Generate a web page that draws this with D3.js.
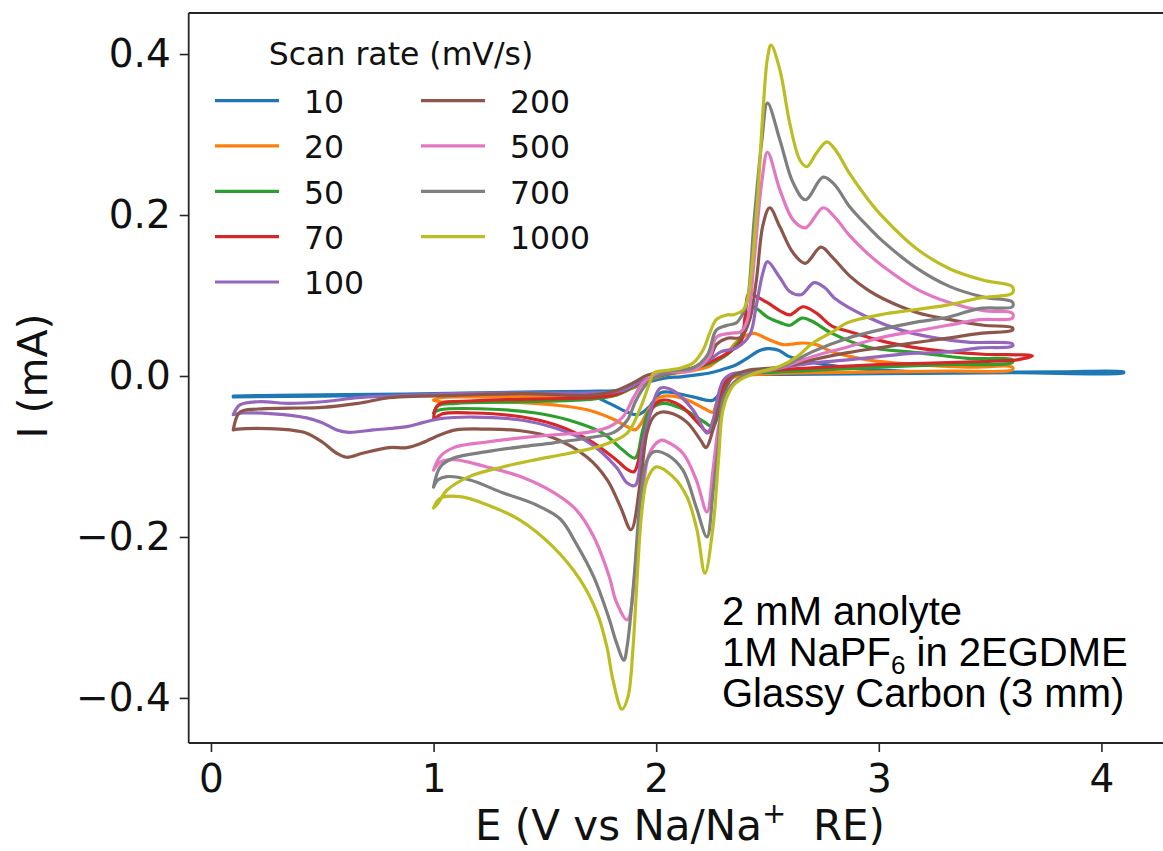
<!DOCTYPE html>
<html>
<head>
<meta charset="utf-8">
<script src="https://cdn.jsdelivr.net/npm/d3@7"></script>
<style>
  html, body { margin: 0; padding: 0; background: #fff; overflow: hidden; }
  svg { display: block; }
</style>
</head>
<body>
<svg id="chart" width="1163" height="851"></svg>
<script>
// ---------------- DATA ----------------
const scanRates = ["10", "20", "50", "70", "100", "200", "500", "700", "1000"];
const xTicks = [0, 1, 2, 3, 4];
const yTicks = [-0.4, -0.2, 0.0, 0.2, 0.4];
const legendTitle = "Scan rate (mV/s)";
const annotationLines = ["2 mM anolyte", "1M NaPF6 in 2EGDME", "Glassy Carbon (3 mm)"];

// Each series: closed CV loop [E (V), I (mA)]
const cv10 = [[0.10,-0.025],[0.30,-0.024],[0.60,-0.023],[1.00,-0.022],[1.40,-0.020],[1.70,-0.019],[1.82,-0.018],[1.88,-0.016],[1.96,-0.008],[2.05,-0.002],[2.11,-0.001],[2.20,0.002],[2.26,0.005],[2.32,0.010],[2.36,0.014],[2.42,0.024],[2.46,0.031],[2.50,0.034],[2.55,0.032],[2.59,0.025],[2.65,0.020],[2.72,0.016],[2.87,0.010],[3.10,0.006],[3.40,0.005],[3.80,0.005],[4.10,0.005],
  [4.10,0.004],[3.60,0.004],[3.00,0.003],[2.60,0.002],[2.41,0.002],[2.345,0.002],[2.30,-0.015],[2.255,-0.030],[2.165,-0.026],[2.06,-0.020],[2.02,-0.021],[1.97,-0.038],[1.92,-0.048],[1.87,-0.045],[1.79,-0.034],[1.72,-0.026],[1.50,-0.023],[1.00,-0.023],[0.50,-0.025],[0.10,-0.026]];
const cv20 = [[1.00,-0.030],[1.03,-0.027],[1.20,-0.026],[1.50,-0.025],[1.75,-0.024],[1.85,-0.020],[1.92,-0.011],[1.98,-0.004],[2.05,0.002],[2.15,0.006],[2.23,0.011],[2.28,0.020],[2.32,0.029],[2.36,0.042],[2.40,0.050],[2.44,0.053],[2.50,0.046],[2.57,0.039],[2.62,0.040],[2.66,0.041],[2.72,0.039],[2.79,0.030],[2.95,0.020],[3.17,0.014],[3.40,0.011],[3.60,0.011],
  [3.60,0.008],[3.31,0.006],[3.00,0.005],[2.70,0.004],[2.41,0.001],[2.345,-0.002],[2.30,-0.012],[2.27,-0.034],[2.255,-0.045],[2.22,-0.041],[2.15,-0.031],[2.075,-0.025],[2.02,-0.026],[1.97,-0.040],[1.93,-0.060],[1.905,-0.067],[1.87,-0.063],[1.81,-0.054],[1.69,-0.042],[1.54,-0.036],[1.40,-0.033],[1.18,-0.032],[1.03,-0.032],[1.00,-0.030]];
const cv50 = [[1.00,-0.046],[1.02,-0.037],[1.10,-0.034],[1.40,-0.032],[1.70,-0.029],[1.82,-0.024],[1.90,-0.013],[1.96,-0.004],[2.05,0.002],[2.165,0.009],[2.255,0.017],[2.32,0.027],[2.37,0.042],[2.40,0.065],[2.43,0.086],[2.46,0.082],[2.50,0.073],[2.56,0.066],[2.60,0.063],[2.655,0.072],[2.70,0.068],[2.79,0.053],[2.95,0.036],[3.17,0.029],[3.40,0.022],[3.60,0.020],
  [3.60,0.017],[3.31,0.014],[3.00,0.011],[2.70,0.007],[2.41,0.003],[2.345,0.000],[2.30,-0.017],[2.28,-0.045],[2.255,-0.063],[2.21,-0.056],[2.12,-0.041],[2.03,-0.034],[1.97,-0.043],[1.94,-0.067],[1.905,-0.102],[1.85,-0.092],[1.76,-0.071],[1.61,-0.055],[1.46,-0.046],[1.24,-0.041],[1.03,-0.042],[1.00,-0.046]];
const cv70 = [[1.00,-0.054],[1.02,-0.036],[1.18,-0.031],[1.40,-0.029],[1.70,-0.027],[1.82,-0.023],[1.90,-0.012],[1.96,-0.004],[2.05,0.003],[2.165,0.010],[2.255,0.019],[2.33,0.030],[2.38,0.042],[2.40,0.075],[2.415,0.102],[2.44,0.100],[2.50,0.091],[2.556,0.081],[2.60,0.076],[2.66,0.086],[2.72,0.078],[2.79,0.062],[2.87,0.055],[3.02,0.043],[3.17,0.035],[3.32,0.030],[3.47,0.027],[3.69,0.025],
  [3.62,0.020],[3.47,0.018],[3.24,0.016],[3.00,0.014],[2.70,0.010],[2.41,0.005],[2.345,0.001],[2.30,-0.012],[2.27,-0.052],[2.235,-0.070],[2.18,-0.056],[2.11,-0.037],[2.03,-0.030],[1.99,-0.037],[1.94,-0.080],[1.90,-0.119],[1.87,-0.116],[1.82,-0.104],[1.70,-0.080],[1.55,-0.061],[1.40,-0.051],[1.18,-0.046],[1.04,-0.047],[1.00,-0.054]];
const cv100 = [[0.10,-0.048],[0.13,-0.036],[0.21,-0.032],[0.355,-0.034],[0.50,-0.032],[0.66,-0.027],[0.80,-0.025],[1.10,-0.022],[1.40,-0.021],[1.70,-0.021],[1.85,-0.018],[1.93,-0.007],[2.02,0.001],[2.165,0.010],[2.24,0.020],[2.29,0.030],[2.36,0.035],[2.42,0.051],[2.45,0.088],[2.48,0.129],[2.50,0.142],[2.556,0.122],[2.60,0.105],[2.65,0.101],[2.71,0.116],[2.76,0.109],[2.80,0.097],[2.95,0.073],[3.10,0.057],[3.24,0.048],[3.40,0.042],[3.60,0.040],
  [3.60,0.037],[3.455,0.035],[3.31,0.030],[3.15,0.028],[3.00,0.024],[2.86,0.020],[2.70,0.016],[2.556,0.010],[2.41,0.004],[2.345,0.003],[2.30,-0.006],[2.255,-0.055],[2.23,-0.071],[2.165,-0.042],[2.075,-0.018],[2.02,-0.015],[1.99,-0.030],[1.94,-0.083],[1.905,-0.136],[1.87,-0.133],[1.82,-0.113],[1.70,-0.083],[1.55,-0.065],[1.40,-0.055],[1.18,-0.051],[1.03,-0.053],[0.95,-0.058],[0.88,-0.063],[0.73,-0.067],[0.62,-0.070],[0.565,-0.067],[0.50,-0.058],[0.43,-0.052],[0.28,-0.047],[0.145,-0.046],[0.10,-0.048]];
const cv200 = [[0.10,-0.067],[0.13,-0.045],[0.21,-0.041],[0.355,-0.040],[0.50,-0.039],[0.66,-0.034],[0.80,-0.027],[0.95,-0.025],[1.10,-0.024],[1.40,-0.022],[1.70,-0.024],[1.81,-0.019],[1.90,-0.008],[1.96,0.001],[2.05,0.005],[2.165,0.010],[2.24,0.022],[2.27,0.039],[2.32,0.047],[2.38,0.048],[2.42,0.070],[2.45,0.119],[2.48,0.188],[2.51,0.209],[2.556,0.185],[2.615,0.153],[2.67,0.140],[2.74,0.160],[2.79,0.148],[2.87,0.124],[2.95,0.107],[3.02,0.096],[3.17,0.079],[3.32,0.070],[3.47,0.063],[3.60,0.060],
  [3.60,0.057],[3.455,0.053],[3.31,0.047],[3.15,0.041],[3.00,0.035],[2.86,0.029],[2.70,0.020],[2.556,0.011],[2.41,0.007],[2.35,0.001],[2.32,-0.011],[2.29,-0.030],[2.255,-0.067],[2.224,-0.089],[2.20,-0.080],[2.14,-0.058],[2.075,-0.047],[2.02,-0.045],[1.99,-0.050],[1.96,-0.069],[1.93,-0.129],[1.887,-0.191],[1.84,-0.163],[1.78,-0.129],[1.69,-0.101],[1.54,-0.077],[1.39,-0.068],[1.24,-0.066],[1.10,-0.067],[1.03,-0.073],[0.95,-0.083],[0.88,-0.089],[0.80,-0.089],[0.68,-0.096],[0.61,-0.101],[0.565,-0.096],[0.50,-0.082],[0.43,-0.071],[0.355,-0.067],[0.21,-0.065],[0.12,-0.066],[0.10,-0.067]];
const cv500 = [[1.00,-0.117],[1.03,-0.100],[1.09,-0.089],[1.24,-0.082],[1.39,-0.077],[1.54,-0.073],[1.69,-0.070],[1.79,-0.063],[1.85,-0.051],[1.90,-0.026],[1.94,-0.009],[2.02,0.004],[2.165,0.007],[2.24,0.024],[2.27,0.048],[2.33,0.053],[2.38,0.055],[2.41,0.070],[2.44,0.144],[2.475,0.243],[2.50,0.278],[2.556,0.231],[2.615,0.194],[2.67,0.184],[2.75,0.209],[2.80,0.198],[2.87,0.174],[2.95,0.152],[3.02,0.136],[3.17,0.108],[3.32,0.091],[3.47,0.081],[3.60,0.078],
  [3.60,0.072],[3.455,0.070],[3.31,0.063],[3.15,0.055],[3.00,0.047],[2.86,0.036],[2.70,0.024],[2.556,0.010],[2.41,0.001],[2.35,-0.008],[2.32,-0.021],[2.28,-0.063],[2.255,-0.117],[2.228,-0.169],[2.18,-0.129],[2.12,-0.096],[2.05,-0.082],[2.02,-0.080],[1.97,-0.096],[1.94,-0.145],[1.91,-0.229],[1.87,-0.303],[1.82,-0.280],[1.79,-0.250],[1.72,-0.200],[1.64,-0.166],[1.54,-0.145],[1.39,-0.125],[1.24,-0.113],[1.09,-0.104],[1.03,-0.107],[1.00,-0.117]];
const cv700 = [[1.00,-0.138],[1.03,-0.113],[1.09,-0.102],[1.24,-0.094],[1.39,-0.088],[1.54,-0.083],[1.69,-0.077],[1.81,-0.070],[1.87,-0.055],[1.91,-0.030],[1.96,-0.009],[2.05,0.005],[2.165,0.010],[2.23,0.026],[2.27,0.057],[2.32,0.063],[2.36,0.066],[2.39,0.078],[2.41,0.094],[2.44,0.194],[2.475,0.293],[2.50,0.339],[2.556,0.293],[2.615,0.240],[2.67,0.219],[2.75,0.247],[2.80,0.238],[2.87,0.210],[2.95,0.186],[3.02,0.167],[3.17,0.134],[3.32,0.111],[3.47,0.098],[3.60,0.092],
  [3.60,0.086],[3.455,0.084],[3.31,0.073],[3.15,0.066],[3.00,0.057],[2.86,0.047],[2.70,0.030],[2.63,0.020],[2.556,0.011],[2.41,0.002],[2.35,-0.008],[2.30,-0.030],[2.28,-0.083],[2.255,-0.145],[2.228,-0.200],[2.18,-0.163],[2.12,-0.117],[2.05,-0.098],[1.99,-0.094],[1.96,-0.104],[1.93,-0.150],[1.90,-0.253],[1.87,-0.335],[1.855,-0.353],[1.82,-0.330],[1.79,-0.303],[1.72,-0.250],[1.64,-0.208],[1.57,-0.178],[1.46,-0.160],[1.31,-0.145],[1.16,-0.129],[1.06,-0.125],[1.02,-0.129],[1.00,-0.138]];
const cv1000 = [[1.00,-0.164],[1.02,-0.158],[1.06,-0.142],[1.16,-0.125],[1.31,-0.113],[1.46,-0.104],[1.61,-0.096],[1.76,-0.086],[1.87,-0.071],[1.93,-0.039],[1.97,-0.009],[1.99,0.004],[2.05,0.007],[2.11,0.010],[2.165,0.016],[2.21,0.032],[2.24,0.053],[2.27,0.070],[2.32,0.076],[2.345,0.076],[2.39,0.082],[2.41,0.095],[2.45,0.200],[2.48,0.330],[2.50,0.395],[2.516,0.411],[2.556,0.380],[2.60,0.314],[2.646,0.268],[2.677,0.260],[2.72,0.277],[2.767,0.291],[2.81,0.279],[2.87,0.251],[2.95,0.220],[3.02,0.197],[3.17,0.158],[3.32,0.133],[3.47,0.119],[3.60,0.111],
  [3.60,0.103],[3.455,0.097],[3.306,0.088],[3.154,0.082],[3.005,0.076],[2.857,0.066],[2.794,0.055],[2.704,0.041],[2.633,0.024],[2.556,0.012],[2.45,0.004],[2.376,-0.005],[2.34,-0.014],[2.30,-0.042],[2.28,-0.104],[2.255,-0.188],[2.219,-0.245],[2.183,-0.191],[2.138,-0.150],[2.075,-0.125],[2.00,-0.113],[1.959,-0.129],[1.935,-0.170],[1.914,-0.253],[1.896,-0.337],[1.873,-0.399],[1.846,-0.414],[1.806,-0.378],[1.779,-0.337],[1.734,-0.294],[1.658,-0.253],[1.536,-0.212],[1.388,-0.179],[1.240,-0.160],[1.119,-0.150],[1.029,-0.152],[1.00,-0.164]];

const seriesData = [cv10, cv20, cv50, cv70, cv100, cv200, cv500, cv700, cv1000];
const colors = ["#1f77b4", "#ff7f0e", "#2ca02c", "#d62728", "#9467bd", "#8c564b", "#e377c2", "#7f7f7f", "#bcbd22"];

// ---------------- CHART ----------------
const svg = d3.select("#chart");
const plot = { left: 188.7, right: 1168.2, top: 13, bottom: 743 };

const x = d3.scaleLinear().domain([-0.1, 4.3]).range([plot.left, plot.right]);
const y = d3.scaleLinear().domain([-0.456, 0.451]).range([plot.bottom, plot.top]);

svg.append("defs").append("clipPath").attr("id", "clip")
  .append("rect").attr("x", plot.left).attr("y", plot.top)
  .attr("width", plot.right - plot.left).attr("height", plot.bottom - plot.top);

const line = d3.line()
  .x(d => x(d[0])).y(d => y(d[1]))
  .curve(d3.curveCatmullRom.alpha(0.5));

const g = svg.append("g").attr("clip-path", "url(#clip)");
seriesData.forEach((s, i) => {
  g.append("path").datum(s)
    .attr("d", line)
    .attr("fill", "none")
    .attr("stroke", colors[i])
    .attr("stroke-width", 3.2)
    .attr("stroke-linejoin", "round")
    .attr("stroke-linecap", "round");
});

// spines (right spine lies outside the canvas)
const spine = svg.append("g").attr("stroke", "#262626").attr("stroke-width", 1.8).attr("fill", "none");
spine.append("line").attr("x1", plot.left).attr("x2", plot.left).attr("y1", plot.top).attr("y2", plot.bottom);
spine.append("line").attr("x1", plot.left).attr("x2", plot.right).attr("y1", plot.top).attr("y2", plot.top);
spine.append("line").attr("x1", plot.left).attr("x2", plot.right).attr("y1", plot.bottom).attr("y2", plot.bottom);

// axes
const fmtY = d3.format(".1f");
const xAxis = svg.append("g").attr("transform", `translate(0,${plot.bottom})`)
  .call(d3.axisBottom(x).tickValues(xTicks).tickFormat(d3.format("d")).tickSize(9).tickPadding(12));
const yAxis = svg.append("g").attr("transform", `translate(${plot.left},0)`)
  .call(d3.axisLeft(y).tickValues(yTicks).tickFormat(fmtY).tickSize(9).tickPadding(9));
[xAxis, yAxis].forEach(a => {
  a.select(".domain").remove();
  a.selectAll(".tick line").attr("stroke", "#262626").attr("stroke-width", 1.6);
  a.selectAll(".tick text").attr("fill", "#111")
    .style("font-family", "DejaVu Sans").style("font-size", "39px");
});

// axis labels
svg.append("text")
  .attr("x", 680).attr("y", 840)
  .attr("text-anchor", "middle")
  .attr("xml:space", "preserve")
  .style("font-family", "DejaVu Sans").style("font-size", "42px").attr("fill", "#111")
  .html('E (V vs Na/Na<tspan baseline-shift="super" font-size="29px">+</tspan>  RE)');
svg.append("text")
  .attr("transform", "translate(47,376) rotate(-90)")
  .attr("text-anchor", "middle")
  .style("font-family", "DejaVu Sans").style("font-size", "41px").attr("fill", "#111")
  .text("I (mA)");

// legend
const leg = svg.append("g");
leg.append("text").attr("x", 401).attr("y", 65).attr("text-anchor", "middle")
  .style("font-family", "DejaVu Sans").style("font-size", "31.5px").attr("fill", "#111")
  .text(legendTitle);
const rowY = [100.7, 145.9, 191.3, 236.6, 282];
scanRates.forEach((r, i) => {
  const col = i < 5 ? 0 : 1;
  const row = i < 5 ? i : i - 5;
  const x0 = col === 0 ? 215 : 421;
  const tx = col === 0 ? 304 : 510;
  const yy = rowY[row];
  leg.append("line").attr("x1", x0).attr("x2", x0 + 64).attr("y1", yy).attr("y2", yy)
    .attr("stroke", colors[i]).attr("stroke-width", 3.2);
  leg.append("text").attr("x", tx).attr("y", yy + 12.3)
    .style("font-family", "DejaVu Sans").style("font-size", "31.5px").attr("fill", "#111")
    .text(r);
});

// annotation
const ann = svg.append("g").style("font-family", "Liberation Sans, Arial").style("font-size", "40px").attr("fill", "#000");
ann.append("text").attr("x", 722).attr("y", 625).text(annotationLines[0]);
const t2 = ann.append("text").attr("x", 722).attr("y", 666);
t2.append("tspan").text("1M NaPF");
t2.append("tspan").attr("dy", 8).style("font-size", "26px").text("6");
t2.append("tspan").attr("dy", -8).text(" in 2EGDME");
ann.append("text").attr("x", 722).attr("y", 707).text(annotationLines[2]);
</script>
</body>
</html>
